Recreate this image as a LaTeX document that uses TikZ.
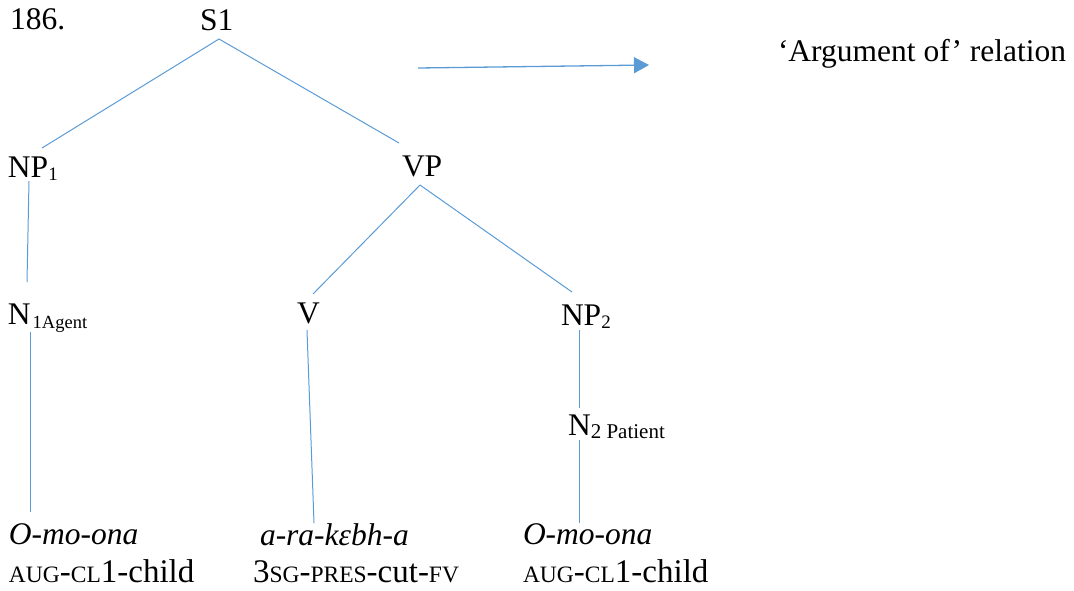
\documentclass[tikz,border=0pt]{standalone}
\usepackage{fontspec}
\setmainfont{Liberation Serif}
\usetikzlibrary{calc,arrows.meta}
\definecolor{treeblue}{HTML}{5B9BD5}
% smaller upper-case letters standing in for small capitals
\newcommand{\glsc}[1]{{\fontsize{23.5}{28}\selectfont #1}}
\newcommand{\lowsub}[3]{\raisebox{-#1}{\fontsize{#2}{#2}\selectfont #3}}
\begin{document}
\begin{tikzpicture}[x=1pt,y=-1pt,
  lbl/.style={inner sep=0pt,outer sep=0pt,anchor=base west,font=\fontsize{31.5}{38}\selectfont},
  word/.style={lbl,font=\fontsize{31.5}{38}\selectfont\itshape},
  gloss/.style={lbl,font=\fontsize{33}{40}\selectfont},
  branch/.style={draw=treeblue,line width=1pt},
  relarrow/.style={draw=treeblue,line width=1.3pt,-{Triangle[length=15pt,width=16pt]}}]
\useasboundingbox (0,0) rectangle (1074,590);

% example number and legend
\node[lbl] (num) at (10,29) {186.};
\node[lbl] (rel) at (778,61) {‘Argument of’ relation};
\coordinate (a0) at (418,68);
\coordinate (a1) at (649,65);
\draw[relarrow] (a0) -- (a1);

% tree labels
\node[lbl] (s1)  at (200,30)  {S1};
\node[lbl] (np1) at (8,177)   {NP\lowsub{3pt}{19}{1}};
\node[lbl] (vp)  at (402,176) {VP};
\node[lbl] (n1)  at (8,324)   {N\kern2pt\lowsub{4pt}{18.5}{1Agent}};
\node[lbl] (v)   at (297,323) {V};
\node[lbl] (np2) at (561,325) {NP\lowsub{3pt}{19}{2}};
\node[lbl] (n2)  at (568,435) {N\lowsub{3pt}{21}{2 Patient}};

% words and glosses
\node[word]  (w1) at (9,544)   {O-mo-ona};
\node[gloss] (g1) at (9,582)   {\glsc{AUG}-\glsc{CL}1-child};
\node[word]  (w2) at (260,545) {a-ra-kɛbh-a};
\node[gloss] (g2) at (253,582) {3\glsc{SG}-\glsc{PRES}-cut-\glsc{FV}};
\node[word]  (w3) at (523,544) {O-mo-ona};
\node[gloss] (g3) at (523,582) {\glsc{AUG}-\glsc{CL}1-child};

% branches
\draw[branch] ($(s1.base west)+(19,9)$) -- ($(np1.base west)+(34,-29)$);
\draw[branch] ($(s1.base west)+(19,9)$) -- ($(vp.base west)+(-3,-33)$);
\draw[branch] ($(np1.base west)+(21,4)$) -- ($(n1.base west)+(19,-42)$);
\draw[branch] ($(n1.base west)+(22,8)$) -- ($(w1.base west)+(21,-32)$);
\draw[branch] ($(vp.base west)+(18,9)$) -- ($(v.base west)+(16,-29)$);
\draw[branch] ($(vp.base west)+(18,9)$) -- ($(np2.base west)+(11,-33)$);
\draw[branch] ($(v.base west)+(10,7)$) -- ($(w2.base west)+(54,-22)$);
\draw[branch] ($(np2.base west)+(18,5)$) -- ($(n2.base west)+(11,-27)$);
\draw[branch] ($(n2.base west)+(11,5)$) -- ($(w3.base west)+(56,-21)$);
\end{tikzpicture}
\end{document}
